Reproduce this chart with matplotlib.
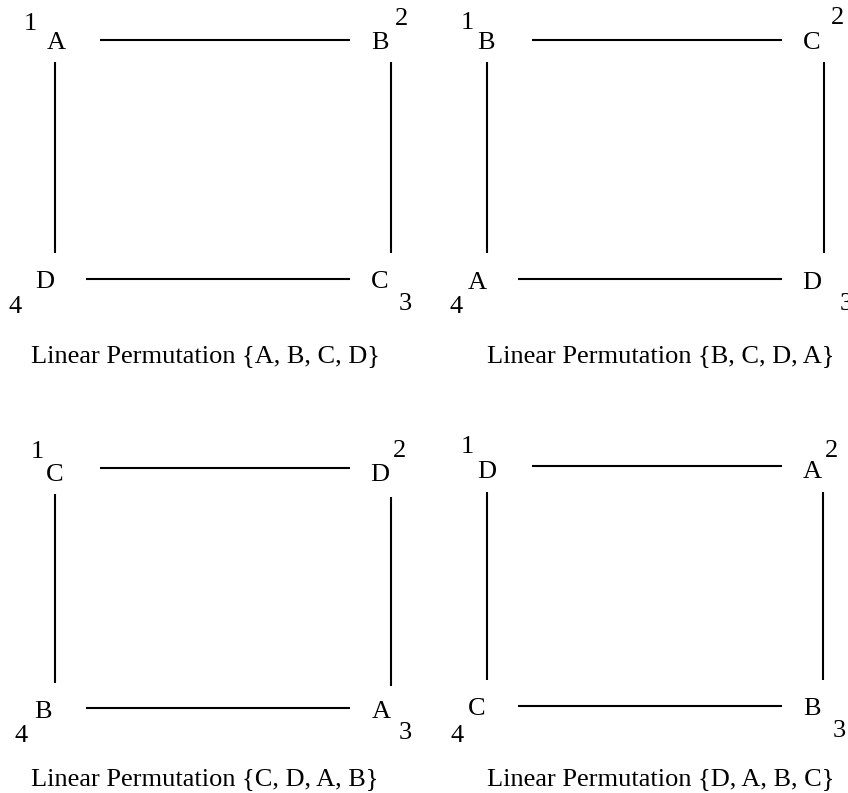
import matplotlib
matplotlib.use("Agg")
import matplotlib.pyplot as plt

# ---- data ----
permutations = [
    ["A", "B", "C", "D"],
    ["B", "C", "D", "A"],
    ["C", "D", "A", "B"],
    ["D", "A", "B", "C"],
]
corner_numbers = ["1", "2", "3", "4"]   # TL, TR, BR, BL
caption_prefix = "Linear Permutation"

# ---- layout (pixel coordinates, y downward) ----
W, H = 848, 793
# letter anchors (x center, baseline) for corners TL, TR, BR, BL
letter_pos = [
    [(56, 49), (380, 49), (380, 288), (45, 288)],
    [(486, 49), (812, 49), (812, 289), (477, 289)],
    [(55, 481), (380, 481), (381, 718), (43, 718)],
    [(487, 478), (812, 478), (812, 715), (477, 715)],
]
number_pos = [
    [(30, 30), (402, 25), (405, 310), (15, 313)],
    [(467, 29), (837, 24), (846, 310), (456, 313)],
    [(37, 458), (400, 457), (405, 739), (21, 742)],
    [(467, 453), (831, 457), (839, 737), (457, 742)],
]
caption_pos = [(205, 362), (661, 362), (205, 785), (661, 785)]
# edges: top (x0,x1,y), bottom (x0,x1,y), left (x,y0,y1), right (x,y0,y1)
edges = [
    dict(top=(100, 350, 40), bottom=(86, 350, 279), left=(55, 62, 253), right=(391, 62, 253)),
    dict(top=(532, 782, 40), bottom=(518, 782, 279), left=(487, 62, 253), right=(824, 62, 253)),
    dict(top=(100, 350, 468), bottom=(86, 350, 708), left=(55, 494, 683), right=(391, 497, 686)),
    dict(top=(532, 782, 466), bottom=(518, 782, 706), left=(487, 492, 680), right=(823, 492, 680)),
]

FONT = "Liberation Serif"
FS = 19
LW = 1.5

fig = plt.figure(figsize=(W / 100, H / 100), dpi=100)
ax = fig.add_axes([0, 0, 1, 1])
ax.set_xlim(0, W)
ax.set_ylim(H, 0)
ax.axis("off")

for p, perm in enumerate(permutations):
    e = edges[p]
    x0, x1, y = e["top"]
    ax.plot([x0, x1], [y, y], color="black", lw=LW, solid_capstyle="butt")
    x0, x1, y = e["bottom"]
    ax.plot([x0, x1], [y, y], color="black", lw=LW, solid_capstyle="butt")
    x, y0, y1 = e["left"]
    ax.plot([x, x], [y0, y1], color="black", lw=LW, solid_capstyle="butt")
    x, y0, y1 = e["right"]
    ax.plot([x, x], [y0, y1], color="black", lw=LW, solid_capstyle="butt")

    for k, letter in enumerate(perm):
        lx, ly = letter_pos[p][k]
        ax.text(lx, ly, letter, ha="center", va="baseline", fontsize=FS, family=FONT)
        nx, ny = number_pos[p][k]
        ax.text(nx, ny, corner_numbers[k], ha="center", va="baseline", fontsize=FS, family=FONT)

    cx, cy = caption_pos[p]
    ax.text(cx, cy, caption_prefix + " {" + ", ".join(perm) + "}",
            ha="center", va="baseline", fontsize=FS, family=FONT)

fig.savefig("out.png", dpi=100, facecolor="white")
